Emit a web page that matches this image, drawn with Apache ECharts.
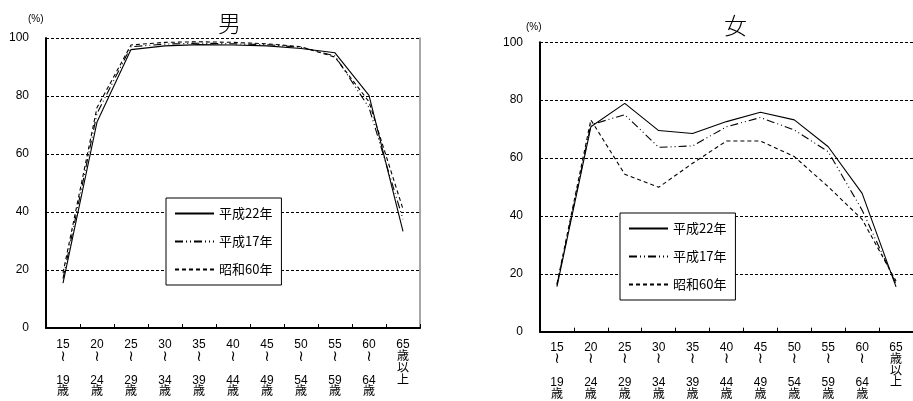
<!DOCTYPE html>
<html>
<head>
<meta charset="utf-8">
<script src="https://cdn.jsdelivr.net/npm/echarts@6/dist/echarts.min.js"></script>
<style>
  html, body { margin: 0; padding: 0; background: #fff; }
  #chart { width: 913px; height: 401px; }
</style>
</head>
<body>
<div id="chart"></div>
<script>
// Age groups (vertical tick labels)
const categories = [
  '15\n≀\n\n19\n歳', '20\n≀\n\n24\n歳', '25\n≀\n\n29\n歳', '30\n≀\n\n34\n歳',
  '35\n≀\n\n39\n歳', '40\n≀\n\n44\n歳', '45\n≀\n\n49\n歳', '50\n≀\n\n54\n歳',
  '55\n≀\n\n59\n歳', '60\n≀\n\n64\n歳', '65\n歳\n以\n上'
];
const yTicks = [0, 20, 40, 60, 80, 100];
const seriesNames = ['平成22年', '平成17年', '昭和60年'];

// Labour force participation rate (%), male
const maleH22 = [15.5, 71.0, 96.0, 97.3, 97.7, 97.6, 97.3, 96.4, 94.9, 80.2, 33.3];
const maleH17 = [17.0, 74.0, 97.0, 97.9, 98.2, 98.0, 97.7, 96.8, 93.8, 76.0, 37.5];
const maleS60 = [19.0, 76.0, 97.6, 98.5, 98.7, 98.5, 98.0, 97.0, 93.4, 78.0, 41.0];

// Labour force participation rate (%), female
const femaleH22 = [15.6, 70.8, 78.9, 69.5, 68.5, 72.6, 75.8, 73.2, 63.9, 47.8, 15.5];
const femaleH17 = [16.2, 71.5, 75.0, 63.7, 64.2, 70.8, 74.0, 69.7, 62.2, 42.0, 16.5];
const femaleS60 = [16.5, 73.2, 54.4, 49.9, 58.2, 65.9, 65.9, 60.5, 50.1, 38.8, 17.5];

const LATIN = '"Liberation Sans", Arial, "Noto Sans CJK JP", sans-serif';
const CJK = '"Noto Sans CJK JP", "Liberation Sans", sans-serif';

const lineTypes = [
  'solid',
  [8, 3, 1, 3, 1, 3],
  [4, 3]
];

function xAxisFor(gridIndex) {
  return {
    type: 'category', gridIndex, data: categories, boundaryGap: true,
    axisLine: { lineStyle: { color: '#000', width: 2 } },
    axisTick: { show: true, inside: true, length: 4, alignWithLabel: false, interval: 0,
                lineStyle: { color: '#000', width: 1 } },
    axisLabel: {
      interval: 0, margin: gridIndex === 0 ? 11 : 10, color: '#000',
      fontSize: 12, lineHeight: 11.8, fontFamily: LATIN,
      // the range mark between the two ages is set in a font that carries it
      formatter: v => v.split('\n').map(s => s === '≀' ? '{w|≀}' : '{t|' + s + '}').join('\n'),
      rich: {
        t: { fontSize: 12, lineHeight: 11.8, fontFamily: LATIN, color: '#000' },
        w: { fontSize: 15, lineHeight: 11.8, fontFamily: '"DejaVu Sans"', color: '#000' }
      }
    },
    splitLine: { show: false }
  };
}
function yAxisFor(gridIndex) {
  return {
    type: 'value', gridIndex, min: yTicks[0], max: yTicks[yTicks.length - 1], interval: 20,
    axisLine: { show: true, lineStyle: { color: '#000', width: 2 } },
    axisTick: { show: false },
    axisLabel: { margin: 17, color: '#000', fontSize: 12, fontFamily: LATIN },
    splitLine: { show: true, lineStyle: { color: '#000', width: 1, type: [3, 2] } }
  };
}
function line(name, data, idx, gridIndex, yIndex) {
  return {
    type: 'line', name, data, xAxisIndex: gridIndex, yAxisIndex: yIndex,
    symbol: 'none', silent: true,
    lineStyle: { color: '#000', width: 1.1, type: lineTypes[idx] },
    itemStyle: { color: '#000' }
  };
}
function legendAt(left, top) {
  return {
    data: seriesNames, orient: 'vertical', left, top,
    itemWidth: 39, itemHeight: 14, itemGap: 15,
    padding: [9, 9, 9, 8],
    backgroundColor: '#fff', borderColor: '#000', borderWidth: 1,
    selectedMode: false,
    itemStyle: { opacity: 0 },
    textStyle: { fontSize: 13, color: '#000', fontFamily: CJK, padding: [0, 0, 0, 0] }
  };
}

const chart = echarts.init(document.getElementById('chart'), null, { renderer: 'canvas' });
chart.setOption({
  animation: false,
  backgroundColor: '#fff',
  title: [
    { text: '男', left: 213, top: 7,
      textStyle: { fontSize: 23, fontWeight: 300, color: '#000', fontFamily: CJK } },
    { text: '女', left: 719, top: 9,
      textStyle: { fontSize: 23, fontWeight: 300, color: '#000', fontFamily: CJK } }
  ],
  graphic: [
    { type: 'text', left: 28, top: 14, style: { text: '(%)', fontSize: 10, fill: '#000', font: '10px ' + LATIN } },
    { type: 'text', left: 526, top: 22, style: { text: '(%)', fontSize: 10, fill: '#000', font: '10px ' + LATIN } }
  ],
  legend: [legendAt(166, 198), legendAt(620, 213)],
  grid: [
    { left: 46, top: 38, width: 374, height: 290 },
    { left: 540, top: 42.3, width: 379.5, height: 289.4 }
  ],
  xAxis: [xAxisFor(0), xAxisFor(1)],
  yAxis: [
    yAxisFor(0),
    yAxisFor(1),
    { type: 'value', gridIndex: 0, position: 'right', min: 0, max: 100, interval: 20,
      axisLine: { show: true, lineStyle: { color: '#888', width: 1.5 } },
      axisTick: { show: false }, axisLabel: { show: false }, splitLine: { show: false } }
  ],
  series: [
    line(seriesNames[0], maleH22, 0, 0, 0),
    line(seriesNames[1], maleH17, 1, 0, 0),
    line(seriesNames[2], maleS60, 2, 0, 0),
    line(seriesNames[0], femaleH22, 0, 1, 1),
    line(seriesNames[1], femaleH17, 1, 1, 1),
    line(seriesNames[2], femaleS60, 2, 1, 1)
  ]
});
</script>
</body>
</html>
